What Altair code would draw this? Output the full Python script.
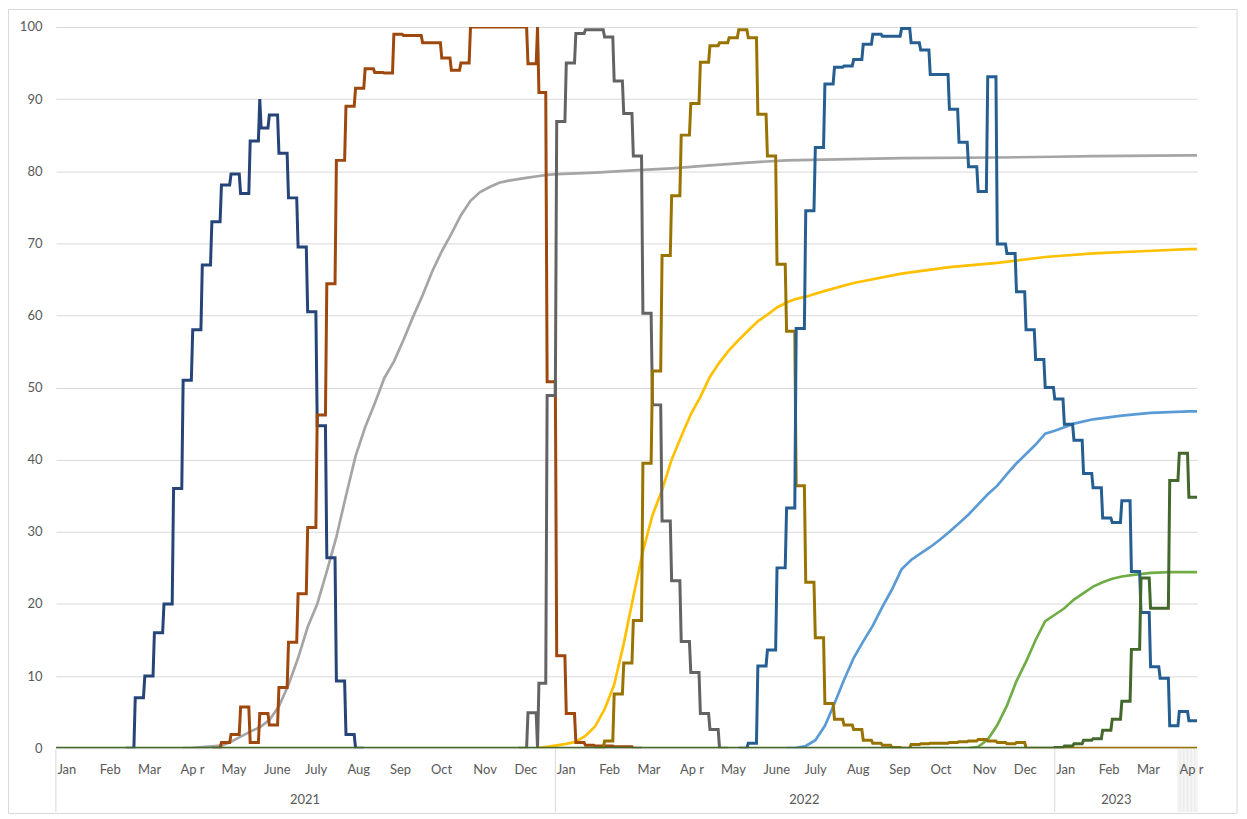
import altair as alt
import pandas as pd

# ---------------- data ----------------
WEEK0 = "2021-02-28"          # start of week index 0
X_START = "2021-01-01"
X_END = "2023-04-15"

# weekly step series: start week index, weekly values, first-day spikes
navy_start = -1
navy_values = [0, 7, 10, 16, 20, 36, 51, 58, 67, 73, 78.1, 79.6, 76.9, 84.2, 86, 87.8, 82.5,
               76.3, 69.5, 60.5, 44.7, 26.4, 9.3, 1.9, 0]
navy_spikes = {13: 90}

orange_start = 8
orange_values = [0, 0.8, 1.9, 5.7, 0.8, 4.8, 3.2, 8.4, 14.7, 21.4, 30.6, 46.2, 64.4, 81.5, 89.0,
                 91.5, 94.2, 93.7, 93.6, 99.0, 98.8, 98.8, 97.8, 97.8, 95.7, 94.0, 95.0, 100, 100,
                 100, 100, 100, 100, 94.9, 90.9, 50.8, 12.8, 4.8, 0.8, 0.4, 0.3, 0.3, 0.2, 0.2, 0]
orange_spikes = {42: 100}

dgray_start = 40
dgray_values = [0, 4.9, 9.0, 48.9, 86.9, 95.0, 99.1, 99.6, 99.6, 98.6, 92.5, 88.0, 82.1, 60.3,
                47.6, 31.5, 23.2, 14.8, 10.5, 4.8, 2.6, 0]
dgray_spikes = {42: 0}

gold_start = 48
gold_values = [0, 1.0, 7.5, 11.8, 17.7, 39.5, 52.3, 68.3, 76.6, 85.0, 89.4, 95.1, 97.4, 97.8,
               98.5, 99.6, 98.5, 87.9, 82.1, 67.1, 57.8, 36.4, 23.0, 15.3, 6.2, 4.0, 3.2, 2.6,
               1.1, 0.7, 0.4, 0.1, 0, 0.5, 0.6, 0.7, 0.7, 0.8, 0.9, 1.0, 1.2, 1.0, 0.8, 0.6, 0.8,
               0, 0, 0, 0, 0, 0, 0, 0, 0, 0, 0, 0, 0, 0, 0, 0, 0, 0]
gold_spikes = {}

blue_start = 63
blue_values = [0, 0.7, 11.4, 13.6, 25.0, 33.3, 58.2, 74.5, 83.3, 92.1, 94.4, 94.6, 95.5, 97.6,
               99.0, 98.7, 98.7, 99.8, 97.8, 96.8, 93.4, 93.4, 88.6, 84.0, 80.6, 77.2, 93.1,
               69.9, 68.6, 63.3, 58.0, 53.9, 50.0, 48.4, 44.9, 42.7, 38.1, 36.1, 31.9, 31.3,
               34.3, 24.5, 18.8, 11.3, 9.7, 3.1, 5.1, 3.8]
blue_spikes = {}

dgreen_start = 95
dgreen_values = [0, 0.1, 0.3, 0.6, 1.1, 1.3, 2.5, 4.0, 6.5, 13.7, 23.6, 19.4, 19.4, 37.1, 40.9, 34.8]
dgreen_spikes = {}

# cumulative series (week index, value)
lgray_weeks = [5, 6, 7, 8, 9, 10, 11, 12, 13, 14, 15, 16, 17, 18, 19, 20, 21, 22, 23, 24, 25, 26,
               27, 28, 29, 30, 31, 32, 33, 34, 35, 36, 37, 38, 39, 40, 41, 42, 43, 44, 46, 48, 52,
               56, 60, 64, 68, 72, 80, 90, 96, 100, 110]
lgray_values = [0, 0.05, 0.15, 0.25, 0.35, 0.9, 1.6, 2.3, 2.9, 3.9, 5.8, 8.8, 12.5, 16.8, 20.0,
                24.5, 29.3, 35.0, 40.5, 44.5, 47.8, 51.3, 53.6, 56.6, 59.8, 62.8, 66.1, 68.9,
                71.3, 73.9, 75.9, 77.1, 77.8, 78.4, 78.7, 78.9, 79.1, 79.3, 79.5, 79.6, 79.7,
                79.8, 80.1, 80.4, 80.8, 81.2, 81.5, 81.6, 81.8, 81.9, 82.0, 82.1, 82.2]

yellow_weeks = [42, 43, 44, 45, 46, 47, 48, 49, 50, 51, 52, 53, 54, 55, 56, 57, 58, 59, 60, 61,
                62, 63, 64, 65, 66, 67, 68, 69, 70, 72, 75, 80, 85, 90, 95, 100, 105, 110]
yellow_values = [0, 0.2, 0.4, 0.6, 0.9, 1.7, 3.0, 5.4, 8.8, 14.5, 21.0, 27.3, 32.3, 35.8, 40.0,
                 43.2, 46.3, 48.7, 51.5, 53.5, 55.2, 56.6, 57.9, 59.2, 60.1, 61.1, 61.8, 62.3,
                 62.6, 63.4, 64.5, 65.8, 66.7, 67.3, 68.1, 68.6, 68.9, 69.2]

lblue_weeks = [68, 69, 70, 71, 72, 73, 74, 75, 76, 77, 78, 79, 80, 81, 82, 83, 84, 85, 86, 87,
               88, 89, 90, 91, 92, 93, 94, 95, 96, 97, 98, 100, 103, 106, 110]
lblue_values = [0, 0.05, 0.3, 1.1, 3.1, 6.2, 9.5, 12.5, 14.8, 17.0, 19.6, 22.0, 24.8, 26.1, 27.0,
                27.9, 28.9, 30.0, 31.2, 32.4, 33.8, 35.2, 36.4, 38.0, 39.5, 40.8, 42.1, 43.6,
                44.0, 44.5, 45.0, 45.6, 46.1, 46.5, 46.7]

lgreen_weeks = [87, 88, 89, 90, 91, 92, 93, 94, 95, 96, 97, 98, 99, 100, 101, 102, 103, 104,
                106, 108, 110]
lgreen_values = [0, 0.2, 1.2, 3.2, 5.9, 9.3, 12.0, 15.0, 17.6, 18.5, 19.4, 20.6, 21.5, 22.4,
                 23.0, 23.5, 23.8, 24.0, 24.3, 24.4, 24.4]

month_names = ["Jan", "Feb", "Mar", "Ap r", "May", "June", "July", "Aug", "Sep", "Oct", "Nov", "Dec"]
year_labels = ["2021", "2022", "2023"]
year_label_dates = ["2021-07-02", "2022-07-02", "2023-02-15"]
year_sep_dates = ["2021-01-01", "2022-01-01", "2023-01-01"]
hatch_dates = ["2023-04-01", "2023-04-02", "2023-04-03", "2023-04-04", "2023-04-05",
               "2023-04-06", "2023-04-07", "2023-04-08", "2023-04-09", "2023-04-10",
               "2023-04-11", "2023-04-12", "2023-04-13", "2023-04-14", "2023-04-15"]
y_ticks = [0, 10, 20, 30, 40, 50, 60, 70, 80, 90, 100]

colors = {
    "lgray": "#A5A5A5", "yellow": "#FFC000", "lblue": "#5B9BD5", "lgreen": "#70AD47",
    "navy": "#264478", "orange": "#9E480E", "dgray": "#636363", "gold": "#997300",
    "blue": "#255E91", "dgreen": "#43682B",
}

# ---------------- build table ----------------
def ms(d):
    return int(pd.Timestamp(d).value // 10**6)

w0 = pd.Timestamp(WEEK0)

def wk(w, d=0):
    return int((w0 + pd.Timedelta(days=7 * w + d)).value // 10**6)

records = []

def add_step(name, start, values, spikes, lead=None):
    if lead is not None:
        records.append((name, ms(lead), 0))
    for i, v in enumerate(values):
        w = start + i
        if w in spikes:
            records.append((name, wk(w), spikes[w]))
            records.append((name, wk(w, 1), v))
        else:
            records.append((name, wk(w), v))
        records.append((name, wk(w, 6), v))

def add_cum(name, weeks, values):
    for w, v in zip(weeks, values):
        records.append((name, wk(w), v))
    records.append((name, ms(X_END), values[-1]))

add_cum("lgray", lgray_weeks, lgray_values)
add_cum("yellow", yellow_weeks, yellow_values)
add_cum("lblue", lblue_weeks, lblue_values)
add_cum("lgreen", lgreen_weeks, lgreen_values)
add_step("navy", navy_start, navy_values, navy_spikes)
add_step("orange", orange_start, orange_values, orange_spikes)
add_step("dgray", dgray_start, dgray_values, dgray_spikes)
add_step("gold", gold_start, gold_values, gold_spikes)
add_step("blue", blue_start, blue_values, blue_spikes)
add_step("dgreen", dgreen_start, dgreen_values, dgreen_spikes, lead=X_START)

df = pd.DataFrame(records, columns=["series", "t", "v"])

# ---------------- chart ----------------
FONT = "Lato"
TXT = "#595959"
GRID = "#d9d9d9"

x_scale = alt.Scale(type="utc", domain=[ms(X_START), ms(X_END)], nice=False)
y_scale = alt.Scale(domain=[0, 100], nice=False, zero=True)

label_expr = "[" + ",".join("'" + m + "'" for m in month_names) + "][utcmonth(datum.value)]"
x_axis = alt.Axis(values=[ms(d) for d in pd.date_range("2021-01-01", "2023-04-01", freq="MS")],
                  labelExpr=label_expr, labelAlign="left", labelBaseline="middle",
                  labelPadding=21, labelOffset=1, tickSize=0, ticks=False, domain=False,
                  grid=False, labelColor=TXT, labelFont=FONT, labelFontSize=13,
                  labelOverlap=False, labelBound=False, labelFlush=False, title=None, zindex=2)
y_axis = alt.Axis(values=y_ticks, grid=True, gridColor=GRID, gridWidth=1, domain=False,
                  ticks=False, tickSize=0, labelPadding=14, labelColor=TXT, labelFont=FONT,
                  labelFontSize=13, title=None)

X = alt.X("t:T", scale=x_scale, axis=x_axis)
Y = alt.Y("v:Q", scale=y_scale, axis=y_axis)

order = ["lgray", "yellow", "lblue", "lgreen", "navy", "orange", "dgray", "gold", "blue", "dgreen"]
widths = {"lgray": 2.7, "yellow": 2.7, "lblue": 2.7, "lgreen": 2.7}

lines = []
for name in order:
    lines.append(
        alt.Chart(df[df.series == name])
        .mark_line(color=colors[name], strokeWidth=widths.get(name, 3.0), clip=True)
        .encode(x=X, y=Y)
    )

frame = alt.Chart(pd.DataFrame({"a": [0]})).mark_rect(
    fill="transparent", stroke=GRID, strokeWidth=1
).encode(x=alt.value(-47.5), x2=alt.value(1184), y=alt.value(-17.5), y2=alt.value(788.5))

seps = alt.Chart(pd.DataFrame({"t": [ms(d) for d in year_sep_dates]})).mark_rule(
    color=GRID, strokeWidth=1
).encode(x=X, y=alt.value(724), y2=alt.value(787))

hatch = alt.Chart(pd.DataFrame({"t": [ms(d) for d in hatch_dates]})).mark_rule(
    color="#ececec", strokeWidth=1
).encode(x=X, y=alt.value(724), y2=alt.value(787))

years = alt.Chart(pd.DataFrame({"t": [ms(d) for d in year_label_dates], "label": year_labels})).mark_text(
    font=FONT, fontSize=13, color=TXT, baseline="middle", align="center"
).encode(x=X, y=alt.value(775), text="label:N")

chart = (
    alt.layer(frame, seps, hatch, *lines, years)
    .properties(width=1144, height=723,
                padding={"left": 48, "top": 18, "right": 42, "bottom": 70},
                autosize=alt.AutoSizeParams(type="none"), background="white")
    .configure_view(stroke="transparent")
)

chart.save("out.html", embed_options={"renderer": "svg", "actions": False})
